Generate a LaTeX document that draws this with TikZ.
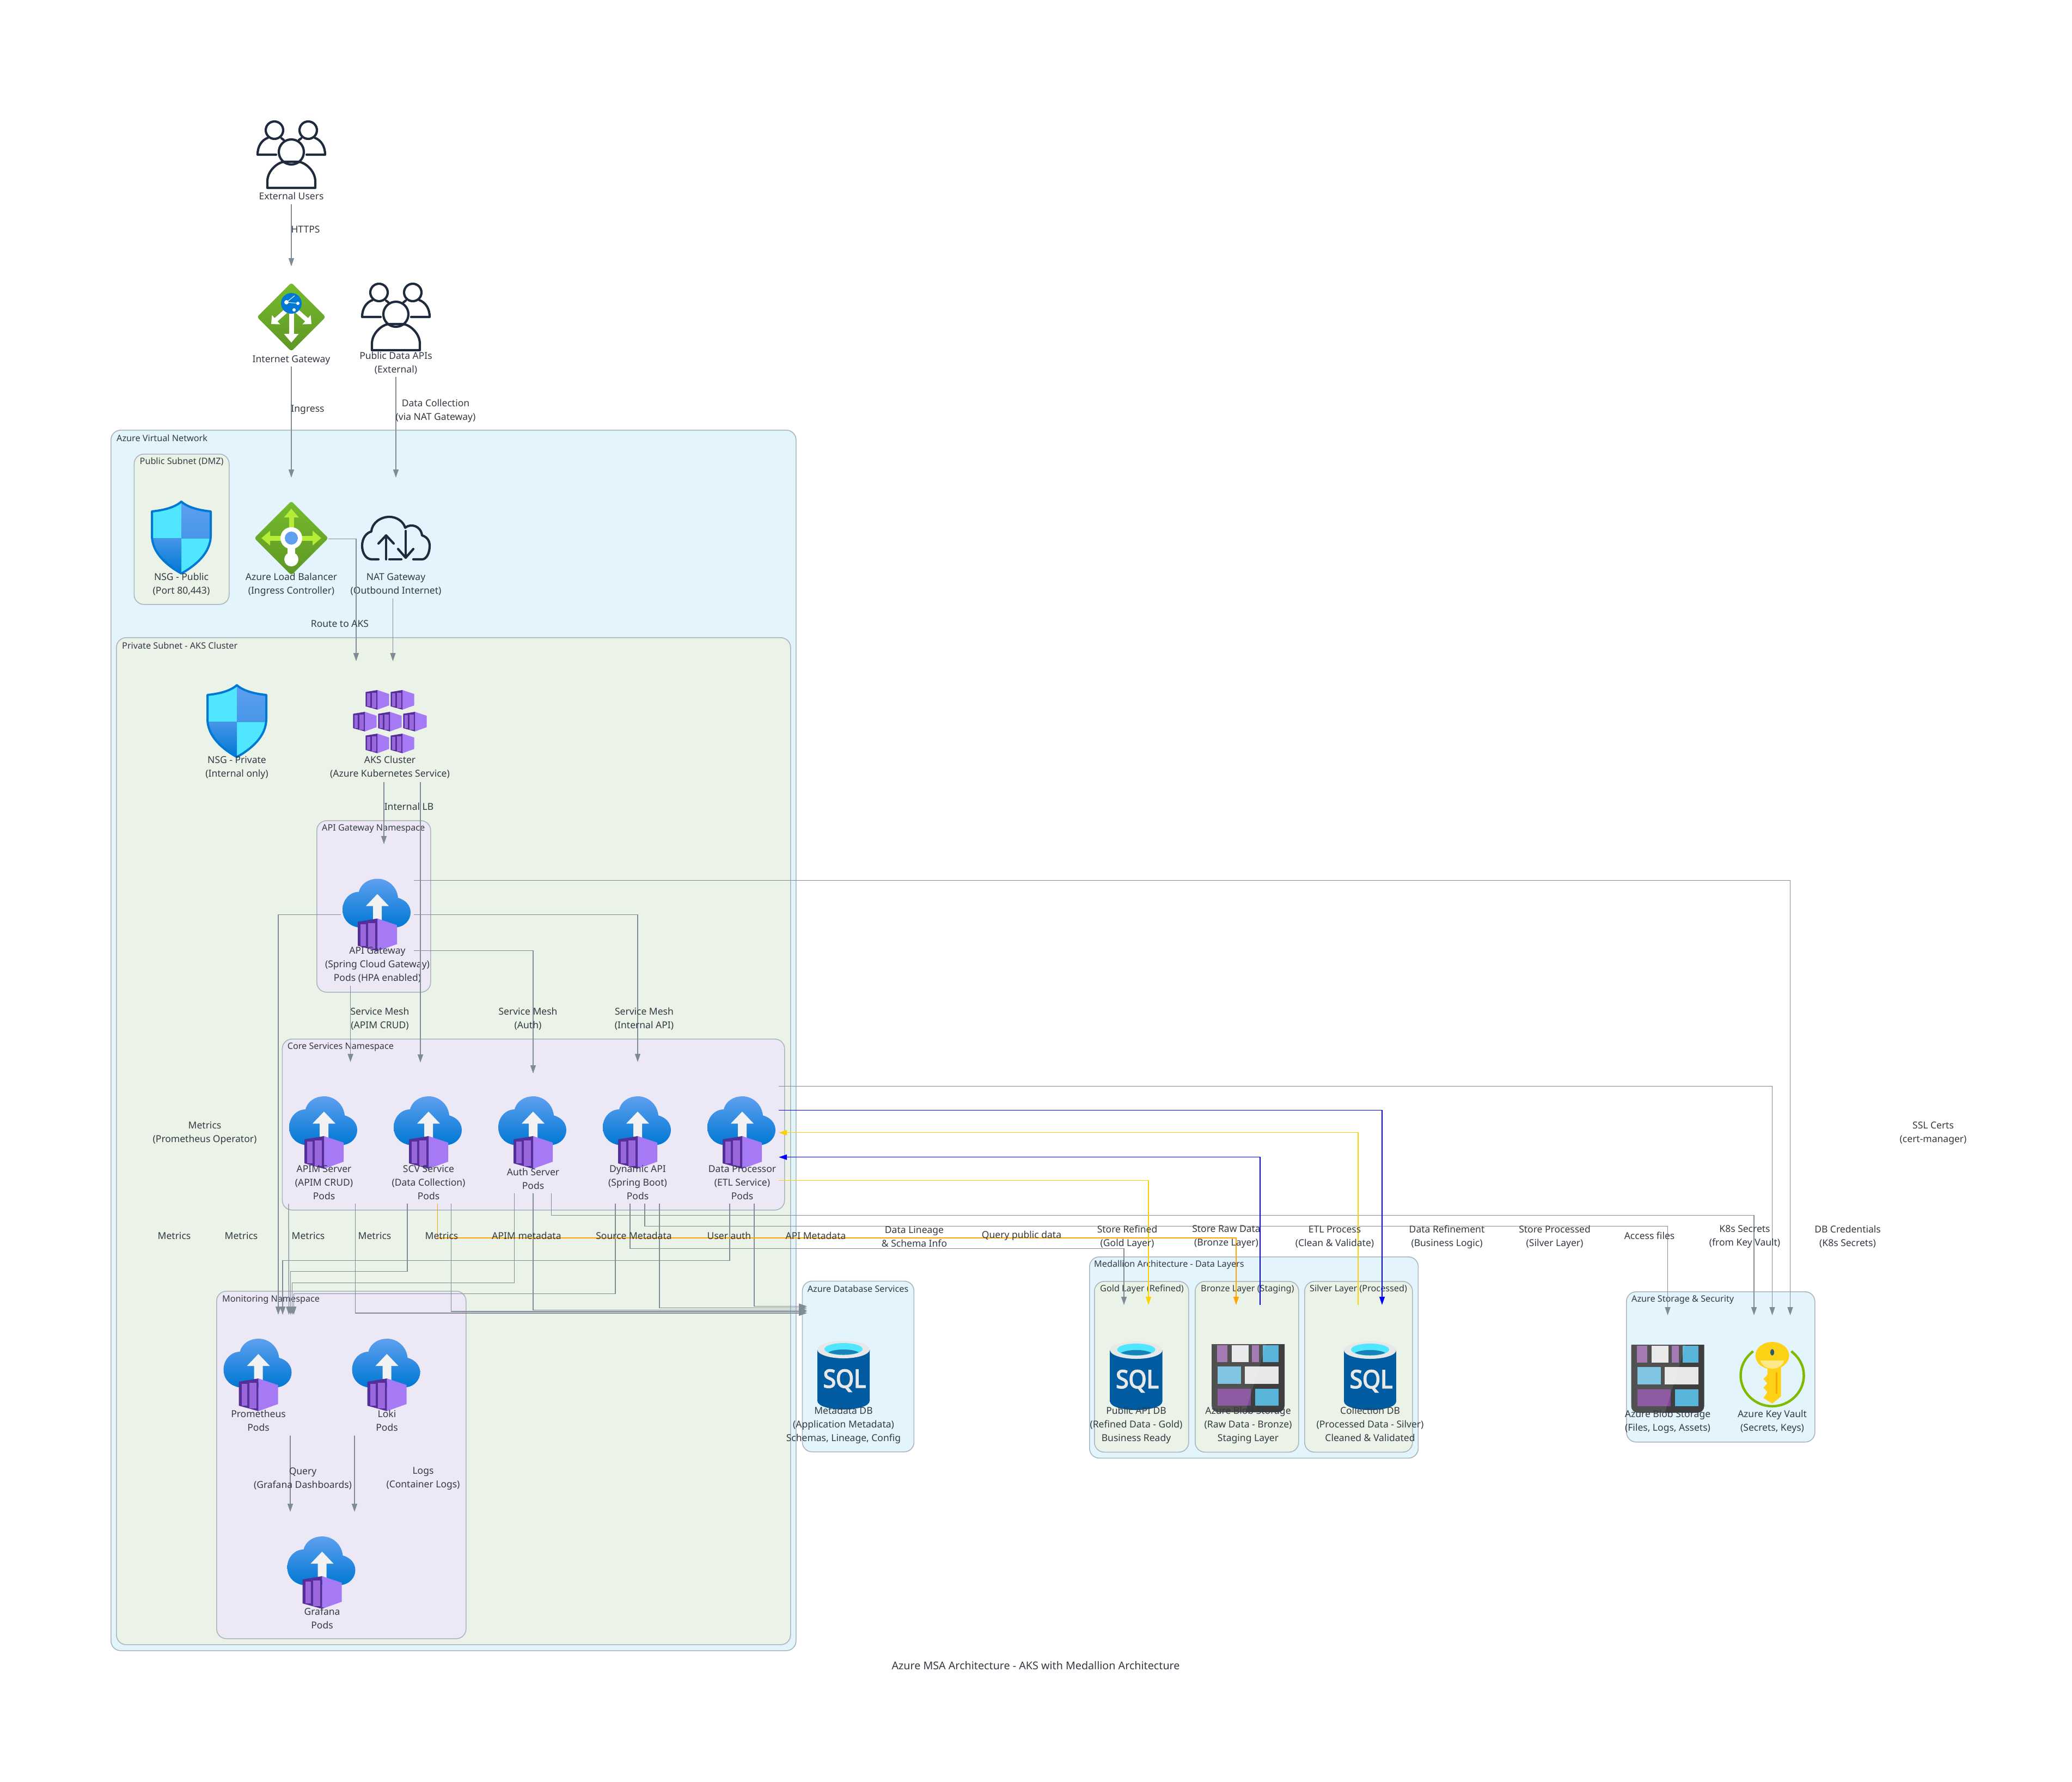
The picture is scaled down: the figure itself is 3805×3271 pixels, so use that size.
\documentclass[tikz,border=0pt]{standalone}
\usepackage{fontspec}
\setmainfont{Noto Sans}
\newfontfamily\sqlfont[FakeBold=3.5,FakeStretch=.92]{Noto Sans}
\usetikzlibrary{arrows.meta,positioning,shapes.geometric}
\definecolor{inkc}{HTML}{333A42}
\definecolor{linec}{HTML}{7F8C97}
\definecolor{edgec}{HTML}{AAB6C0}
\definecolor{netc}{HTML}{E3F4FC}
\definecolor{subc}{HTML}{EBF2E7}
\definecolor{nsc}{HTML}{ECE8F6}
\definecolor{usrc}{HTML}{1F2A3C}
\definecolor{cblue}{HTML}{0078D4}
\definecolor{sqle}{HTML}{005BA1}
\definecolor{lblue}{HTML}{5EA0EF}
\definecolor{cyanc}{HTML}{50E6FF}
\definecolor{podl}{HTML}{A67AF4}
\definecolor{podd}{HTML}{552F99}
\definecolor{pods}{HTML}{9A67DD}
\definecolor{grnt}{HTML}{76BC2D}
\definecolor{grnb}{HTML}{5E9624}
\definecolor{lime}{HTML}{B4EC36}
\definecolor{ringc}{HTML}{7FBA00}
\definecolor{blobf}{HTML}{3E3E3E}
\definecolor{blobb}{HTML}{59B4D9}
\definecolor{blobp}{HTML}{804998}
\definecolor{blobw}{HTML}{E8E8E8}
\definecolor{keyc}{HTML}{FCD116}
\definecolor{goldc}{HTML}{FFD000}
\definecolor{orngc}{HTML}{FFA500}
\newcommand{\shieldpath}{(0,0) .. controls (-12,11) and (-34,16) .. (-54,18) -- (-54,62) .. controls (-54,95) and (-25,118) .. (0,132) .. controls (25,118) and (54,95) .. (54,62) -- (54,18) .. controls (34,16) and (12,11) .. (0,0) -- cycle}
\tikzset{
  pics/cbox/.style={code={
    \fill[podl] (0,-30) -- (36,-18) -- (36,17) -- (0,30) -- cycle;
    \fill[podd] (0,-30) -- (-36,-24) -- (-36,20) -- (0,30) -- cycle;
    \fill[pods] (-31,-20) rectangle (-21,20);
    \fill[pods] (-17,-22) rectangle (-4,25);
  }},
  pics/podicon/.style={code={
    \shade[top color=lblue, bottom color=cblue] (-37,89) .. controls (-55,85) and (-64,72) .. (-64,57) .. controls (-64,38) and (-50,24) .. (-34,24) .. controls (-30,8) and (-15,0) .. (0,0) .. controls (20,0) and (36,15) .. (38,35) .. controls (52,39) and (61,49) .. (61,62) .. controls (61,76) and (50,87) .. (37,89) -- cycle;
    \fill[white!95!black] (0,28) -- (21,50) -- (8,50) -- (8,80) -- (-8,80) -- (-8,50) -- (-21,50) -- cycle;
    \pic at (0,103) {cbox};
  }},
  pics/usersicon/.style={code={
    \begin{scope}[draw=usrc, line width=4.2pt, line join=round, line cap=round]
    \draw (-31,18) circle[radius=16];
    \draw (31,18) circle[radius=16];
    \draw (-28,63) -- (-62,63) .. controls (-62,47) and (-54,36) .. (-43,32);
    \draw (28,63) -- (62,63) .. controls (62,47) and (54,36) .. (43,32);
    \draw (-18,33) -- (-14,36);
    \draw (18,33) -- (14,36);
    \draw[fill=white] (0,58) circle[radius=23];
    \draw (-44,124) -- (-44,112) .. controls (-44,92) and (-24,76) .. (-12,76) -- (12,76) .. controls (24,76) and (44,92) .. (44,112) -- (44,124) -- cycle;
    \end{scope}
  }},
  pics/igwicon/.style={code={
    \shade[top color=grnt, bottom color=grnb, rounded corners=4pt] (0,0) -- (63,63) -- (0,126) -- (-63,63) -- cycle;
    \draw[white, line width=9pt, -{Triangle[length=16pt,width=26pt]}] (0,50) -- (0,110);
    \draw[white, line width=8pt, -{Triangle[length=12pt,width=22pt]}] (-10,52) -- (-37,76);
    \draw[white, line width=8pt, -{Triangle[length=12pt,width=22pt]}] (10,52) -- (37,76);
    \fill[cblue] (0,38) circle[radius=19];
    \fill[white] (-9,36) circle[radius=4] (5,50) circle[radius=3] (12,38) circle[radius=3];
    \draw[white, line width=1pt] (-9,36) -- (6,24) (-9,36) -- (12,38);
  }},
  pics/lbicon/.style={code={
    \shade[top color=grnt, bottom color=grnb, rounded corners=4pt] (0,0) -- (68,68) -- (0,136) -- (-68,68) -- cycle;
    \draw[lime, line width=9pt, -{Triangle[length=16pt,width=26pt]}] (0,68) -- (0,14);
    \draw[lime, line width=9pt, -{Triangle[length=16pt,width=26pt]}] (0,68) -- (-55,68);
    \draw[lime, line width=9pt, -{Triangle[length=16pt,width=26pt]}] (0,68) -- (55,68);
    \fill[white] (-7,80) rectangle (7,105);
    \fill[white] (0,107) circle[radius=13];
    \fill[white] (0,68) circle[radius=20];
    \fill[lblue] (0,68) circle[radius=12];
  }},
  pics/naticon/.style={code={
    \begin{scope}[draw=usrc, line width=4.2pt, line join=round, line cap=round]
    \draw (-32,79) -- (-44,79) .. controls (-56,79) and (-62,66) .. (-62,54) .. controls (-62,40) and (-54,30) .. (-45,28) .. controls (-44,12) and (-28,1) .. (-12,1) .. controls (2,1) and (14,10) .. (17,21) .. controls (28,12) and (46,18) .. (48,35) .. controls (58,38) and (62,46) .. (62,54) .. controls (62,68) and (56,79) .. (48,79) -- (32,79);
    \draw (-18,79) -- (-18,36);
    \draw (-32,50) -- (-18,35) -- (-4,50);
    \draw (18,27) -- (18,76);
    \draw (4,60) -- (18,76) -- (32,60);
    \draw (-12,79) -- (10,79);
    \end{scope}
  }},
  pics/shieldicon/.style={code={
    \begin{scope}
    \clip \shieldpath;
    \fill[cyanc] (-54,0) rectangle (0,67);
    \fill[cyanc] (0,67) rectangle (54,132);
    \shade[top color=lblue, bottom color=lblue!75!cblue] (0,0) rectangle (54,67);
    \shade[top color=lblue!75!cblue, bottom color=cblue] (-54,67) rectangle (0,132);
    \end{scope}
    \draw[cblue, line width=4pt, line join=round] \shieldpath;
  }},
  pics/aksicon/.style={code={
    \pic[scale=.6] at (-23,18) {cbox};
    \pic[scale=.6] at (23,18) {cbox};
    \pic[scale=.6] at (-46,58) {cbox};
    \pic[scale=.6] at (0,58) {cbox};
    \pic[scale=.6] at (46,58) {cbox};
    \pic[scale=.6] at (-23,98) {cbox};
    \pic[scale=.6] at (23,98) {cbox};
  }},
  pics/sqlicon/.style={code={
    \shade[left color=sqle, middle color=cblue, right color=sqle] (-48,16) -- (-48,110) .. controls (-48,120) and (-25,126) .. (0,126) .. controls (25,126) and (48,120) .. (48,110) -- (48,16) -- cycle;
    \fill[blobw] (0,16) ellipse[x radius=48, y radius=16];
    \fill[cyanc] (0,15) ellipse[x radius=35, y radius=11];
    \fill[cblue!60!cyanc!80!black] (-28,21) .. controls (-15,14) and (15,14) .. (28,21) .. controls (15,27) and (-15,27) .. (-28,21);
    \node[font=\fontsize{46}{46}\sqlfont, text=blobw, inner sep=0pt] (-sqltxt) at (2,73) {SQL};
  }},
  pics/blobicon/.style={code={
    \begin{scope}[shift={(-67,0)}]
    \fill[blobf] (0,0) -- (134,0) {[rounded corners=12pt] -- (134,125) -- (0,125)} -- cycle;
    \fill[blobp!80!white] (10,2) rectangle (29,33);
    \fill[blobw] (37,2) rectangle (68,33);
    \fill[blobp!80!white] (74,2) rectangle (87,33);
    \fill[blobb] (94,2) rectangle (123,33);
    \fill[blobb!85!white] (11,41) rectangle (54,73);
    \fill[blobw] (61,41) rectangle (123,73);
    \fill[blobp] (11,82) rectangle (72,113);
    \fill[blobb] (80,82) rectangle (123,113);
    \fill[white, opacity=.1] (0,0) -- (100,0) -- (62,125) -- (0,125) -- cycle;
    \end{scope}
  }},
  pics/keyicon/.style={code={
    \draw[ringc, line width=4.5pt] (-35,17) .. controls (-51,30) and (-58,45) .. (-58,62) .. controls (-58,92) and (-32,118) .. (0,118) .. controls (32,118) and (58,92) .. (58,62) .. controls (58,45) and (51,30) .. (35,17);
    \fill[keyc] (0,25) ellipse[x radius=31, y radius=25];
    \fill[keyc] (16,42) -- (16,100) -- (0,113) -- (-16,103) -- (-9,92) -- (-16,84) -- (-9,76) -- (-16,68) -- (-9,60) -- (-9,42) -- cycle;
    \fill[orngc] (6,56) rectangle (9,95);
    \fill[keyc!50!white] (-22,34) -- (22,34) .. controls (18,46) and (8,49) .. (0,49) .. controls (-8,49) and (-18,46) .. (-22,34);
    \fill[blobb!50!black] (0,19) ellipse[x radius=3.5, y radius=6];
  }}
}
\begin{document}
\begin{tikzpicture}[
  x=1pt, y=-1pt,
  font=\fontsize{17.5}{25}\selectfont,
  text=inkc,
  grp/.style={draw=edgec, line width=1.6pt, rounded corners=18pt, anchor=north west, inner sep=0pt},
  grplbl/.style={font=\fontsize{16.2}{20}\selectfont, anchor=west, inner sep=0pt},
  icn/.style 2 args={minimum width=#1pt, minimum height=#2pt, anchor=north, inner sep=0pt},
  txt/.style={align=center, inner sep=0pt, anchor=north, yshift=7pt, execute at begin node=\rule{0pt}{17.5pt}},
  lbl/.style={align=center, inner sep=0pt},
  arr/.style={draw=linec, line width=1.25pt, -{Triangle[length=15pt,width=10pt,fill=linec]}},
  arry/.style={draw=goldc, line width=1.2pt, -{Triangle[length=15pt,width=10pt,fill=goldc]}},
  arro/.style={draw=orngc, line width=1.2pt, -{Triangle[length=15pt,width=10pt,fill=orngc]}},
  arrb/.style={draw=blue, line width=1.1pt, -{Triangle[length=15pt,width=10pt,fill=blue]}}]
\path[use as bounding box, fill=white] (0,0) rectangle (3805,3271);
% --- groups ---
\node[grp, fill=netc, minimum width=1258pt, minimum height=2241pt] (vnet) at (203,789) {};
\node[grplbl] (vnetL) at ([shift={(11,15)}]vnet.north west) {Azure Virtual Network};
\node[grp, fill=subc, minimum width=174.5pt, minimum height=276pt] (pubnet) at (245.5,833) {};
\node[grplbl] (pubnetL) at ([shift={(11,15)}]pubnet.north west) {Public Subnet (DMZ)};
\node[grp, fill=subc, minimum width=1238pt, minimum height=1849pt] (privnet) at (213,1170) {};
\node[grplbl] (privnetL) at ([shift={(11,15)}]privnet.north west) {Private Subnet - AKS Cluster};
\node[grp, fill=nsc, minimum width=209pt, minimum height=315pt] (gwns) at (581,1506) {};
\node[grplbl] (gwnsL) at ([shift={(10,16)}]gwns.north west) {API Gateway Namespace};
\node[grp, fill=nsc, minimum width=922.4pt, minimum height=314pt] (corens) at (517.6,1907) {};
\node[grplbl] (corensL) at ([shift={(10,15)}]corens.north west) {Core Services Namespace};
\node[grp, fill=nsc, minimum width=458pt, minimum height=638pt] (monns) at (397,2370) {};
\node[grplbl] (monnsL) at ([shift={(11,16)}]monns.north west) {Monitoring Namespace};
\node[grp, fill=netc, minimum width=205pt, minimum height=313.5pt] (dbns) at (1472.6,2351.5) {};
\node[grplbl] (dbnsL) at ([shift={(10,15)}]dbns.north west) {Azure Database Services};
\node[grp, fill=netc, minimum width=603.6pt, minimum height=369.5pt] (medal) at (2000,2307) {};
\node[grplbl] (medalL) at ([shift={(9,15)}]medal.north west) {Medallion Architecture - Data Layers};
\node[grp, fill=subc, minimum width=173pt, minimum height=313.5pt] (goldg) at (2009,2352) {};
\node[grplbl] (goldgL) at ([shift={(11,15)}]goldg.north west) {Gold Layer (Refined)};
\node[grp, fill=subc, minimum width=190pt, minimum height=313.5pt] (bronzeg) at (2194,2352) {};
\node[grplbl] (bronzegL) at ([shift={(11,15)}]bronzeg.north west) {Bronze Layer (Staging)};
\node[grp, fill=subc, minimum width=198pt, minimum height=313.5pt] (silverg) at (2395,2352) {};
\node[grplbl] (silvergL) at ([shift={(10,15)}]silverg.north west) {Silver Layer (Processed)};
\node[grp, fill=netc, minimum width=346pt, minimum height=276pt] (storeg) at (2986,2371) {};
\node[grplbl] (storegL) at ([shift={(10,15)}]storeg.north west) {Azure Storage \& Security};
% --- services ---
\node[icn={125}{134}] (users) at (535,221) {};
\pic at (users.north) {usersicon};
\node[txt] (usersL) at (users.south) {External Users};
\node[icn={125}{135}] (igw) at (535,519) {};
\pic at (igw.north) {igwicon};
\node[txt] (igwL) at (igw.south) {Internet Gateway};
\node[icn={125}{134}] (pubapi) at (727,519) {};
\pic at (pubapi.north) {usersicon};
\node[txt] (pubapiL) at (pubapi.south) {Public Data APIs\\(External)};
\node[icn={109}{138}] (nsgpub) at (333,921) {};
\pic at (nsgpub.north) {shieldicon};
\node[txt] (nsgpubL) at (nsgpub.south) {NSG - Public\\(Port 80,443)};
\node[icn={136}{139}] (lb) at (535,920) {};
\pic at (lb.north) {lbicon};
\node[txt] (lbL) at (lb.south) {Azure Load Balancer\\(Ingress Controller)};
\node[icn={125}{111}] (nat) at (727,948) {};
\pic at (nat.north) {naticon};
\node[txt] (natL) at (nat.south) {NAT Gateway\\(Outbound Internet)};
\node[icn={109}{137}] (nsgpriv) at (435,1258) {};
\pic at (nsgpriv.north) {shieldicon};
\node[txt] (nsgprivL) at (nsgpriv.south) {NSG - Private\\(Internal only)};
\node[icn={134}{128}] (aks) at (716,1267) {};
\pic at (aks.north) {aksicon};
\node[txt] (aksL) at (aks.south) {AKS Cluster\\(Azure Kubernetes Service)};
\node[icn={134}{132}] (gw) at (693,1613.5) {};
\pic at (gw.north) {podicon};
\node[txt] (gwL) at (gw.south) {API Gateway\\(Spring Cloud Gateway)\\Pods (HPA enabled)};
\node[icn={134}{133}] (apim) at (595,2013) {};
\pic at (apim.north) {podicon};
\node[txt] (apimL) at (apim.south) {APIM Server\\(APIM CRUD)\\Pods};
\node[icn={134}{133}] (scv) at (787,2013) {};
\pic at (scv.north) {podicon};
\node[txt] (scvL) at (scv.south) {SCV Service\\(Data Collection)\\Pods};
\node[icn={134}{139}] (auth) at (979,2013) {};
\pic at (auth.north) {podicon};
\node[txt] (authL) at (auth.south) {Auth Server\\Pods};
\node[icn={134}{133}] (dyn) at (1171,2013) {};
\pic at (dyn.north) {podicon};
\node[txt] (dynL) at (dyn.south) {Dynamic API\\(Spring Boot)\\Pods};
\node[icn={134}{133}] (proc) at (1363,2013) {};
\pic at (proc.north) {podicon};
\node[txt] (procL) at (proc.south) {Data Processor\\(ETL Service)\\Pods};
\node[icn={134}{138}] (prom) at (474.5,2458) {};
\pic at (prom.north) {podicon};
\node[txt] (promL) at (prom.south) {Prometheus\\Pods};
\node[icn={134}{138}] (loki) at (710.5,2458) {};
\pic at (loki.north) {podicon};
\node[txt] (lokiL) at (loki.south) {Loki\\Pods};
\node[icn={134}{137}] (graf) at (591.5,2821) {};
\pic at (graf.north) {podicon};
\node[txt] (grafL) at (graf.south) {Grafana\\Pods};
\node[icn={96}{128}] (metadb) at (1549,2462) {};
\pic (metaSql) at (metadb.north) {sqlicon};
\node[txt] (metadbL) at (metadb.south) {Metadata DB\\(Application Metadata)\\Schemas, Lineage, Config};
\node[icn={96}{127}] (gold) at (2086.5,2463) {};
\pic (goldSql) at (gold.north) {sqlicon};
\node[txt] (goldL) at (gold.south) {Public API DB\\(Refined Data - Gold)\\Business Ready};
\node[icn={134}{122}] (bronze) at (2292,2468) {};
\pic at (bronze.north) {blobicon};
\node[txt] (bronzeL) at (bronze.south) {Azure Blob Storage\\(Raw Data - Bronze)\\Staging Layer};
\node[icn={96}{127}] (silver) at (2516,2463) {};
\pic (silverSql) at (silver.north) {sqlicon};
\node[txt] (silverL) at (silver.south) {Collection DB\\(Processed Data - Silver)\\Cleaned \& Validated};
\node[icn={134}{127}] (blob) at (3062.5,2469) {};
\pic at (blob.north) {blobicon};
\node[txt] (blobL) at (blob.south) {Azure Blob Storage\\(Files, Logs, Assets)};
\node[icn={116}{132}] (kv) at (3254.5,2464) {};
\pic at (kv.north) {keyicon};
\node[txt] (kvL) at (kv.south) {Azure Key Vault\\(Secrets, Keys)};
% --- connectors, top ---
\draw[arr] ([shift={(0,20)}]users.south) -- ([shift={(0,-30)}]igw.north);
\draw[arr] ([shift={(0,19)}]igw.south) -- ([shift={(0,-43)}]lb.north);
\draw[arr] ([shift={(0,39)}]pubapi.south) -- ([shift={(0,-71)}]nat.north);
\draw[arr] (lb.east) -| ([shift={(-62,-53)}]aks.north);
\draw[arr] ([shift={(-5.5,40)}]nat.south) -- ([shift={(5.5,-53)}]aks.north);
\draw[arr] ([shift={(-11,41)}]aks.south) -- ([shift={(12,-63.5)}]gw.north);
\draw[arr] ([shift={(56,41)}]aks.south) -- ([shift={(-15,-62)}]scv.north);
% --- connectors, gateway ---
\draw[arr] ([shift={(-49.4,64.5)}]gw.south) -- ([shift={(48.6,-63)}]apim.north);
\draw[arr] ([shift={(0,66)}]gw.east) -| ([shift={(0,-42)}]auth.north);
\draw[arr] (gw.east) -| ([shift={(0,-63)}]dyn.north);
\draw[arr] (gw.west) -| ([shift={(36.5,-44)}]prom.north);
\draw[arr] ([shift={(0,-63.5)}]gw.east) -| ([shift={(33,-49)}]kv.north);
% --- connectors, to monitoring ---
\draw[arr] ([shift={(-65,64)}]apim.south) -- ([shift={(56,-44)}]prom.north);
\draw[arr] ([shift={(-39,64)}]scv.south) -- ++(0,123.7) -| ([shift={(59.2,-44)}]prom.north);
\draw[arr] ([shift={(-34.4,39)}]auth.south) -- ++(0,164) -| ([shift={(62.2,-44)}]prom.north);
\draw[arr] ([shift={(-41,64)}]dyn.south) -- ++(0,165) -| ([shift={(64.8,-44)}]prom.north);
\draw[arr] ([shift={(-23,64)}]proc.south) -- ++(0,104) -| ([shift={(44.5,-44)}]prom.north);
% --- connectors, to metadata ---
\draw[arr] ([shift={(57.7,64)}]apim.south) |- ([shift={(-67,-51)}]metadb.north);
\draw[arr] ([shift={(41.6,64)}]scv.south) |- ([shift={(-67,-54)}]metadb.north);
\draw[arr] ([shift={(0,39)}]auth.south) |- ([shift={(-67,-56.3)}]metadb.north);
\draw[arr] ([shift={(40,64)}]dyn.south) |- ([shift={(-67,-60.3)}]metadb.north);
\draw[arr] ([shift={(22,64)}]proc.south) |- ([shift={(-67,-63.5)}]metadb.north);
% --- connectors, to data and security ---
\draw[arro] ([shift={(16.6,64)}]scv.south) -- ++(0,62.5) -| ([shift={(-22,-72)}]bronze.north);
\draw[arr] ([shift={(33.6,39)}]auth.south) -- ++(0,40) -| ([shift={(-33.5,-49)}]kv.north);
\draw[arr] ([shift={(-14,64)}]dyn.south) -- ++(0,82) -| ([shift={(-22.5,-67)}]gold.north);
\draw[arr] ([shift={(13,64)}]dyn.south) -- ++(0,41) -| ([shift={(0,-54)}]blob.north);
\draw[arr] ([shift={(0,-85.5)}]proc.east) -| ([shift={(0,-49)}]kv.north);
\draw[arrb] ([shift={(0,-41.5)}]proc.east) -| ([shift={(22,-67)}]silver.north);
\draw[arry] ([shift={(-22,-67)}]silver.north) |- (proc.east);
\draw[arrb] ([shift={(22,-72)}]bronze.north) |- ([shift={(0,45)}]proc.east);
\draw[arry] ([shift={(0,87.5)}]proc.east) -| ([shift={(22.5,-67)}]gold.north);
\draw[arr] ([shift={(58.5,40)}]prom.south) -- ([shift={(-58.5,-45)}]graf.north);
\draw[arr] ([shift={(-59.5,40)}]loki.south) -- ([shift={(59.5,-45)}]graf.north);
% --- edge labels ---
\node[lbl] (eHttps) at (561,421) {HTTPS};
\node[lbl] (eIngress) at (565,752) {Ingress};
\node[lbl] (eData) at (800,754) {Data Collection\\(via NAT Gateway)};
\node[lbl] (eRoute) at (624,1145) {Route to AKS};
\node[lbl] (eIntLb) at (751,1481) {Internal LB};
\node[lbl] (eSm1) at (697.5,1871) {Service Mesh\\(APIM CRUD)};
\node[lbl] (eSm2) at (969.5,1871) {Service Mesh\\(Auth)};
\node[lbl] (eSm3) at (1183,1871) {Service Mesh\\(Internal API)};
\node[lbl] (eProm) at (376,2081) {Metrics\\(Prometheus Operator)};
\node[lbl] (eSsl) at (3550,2081) {SSL Certs\\(cert-manager)};
\node[lbl] (eM1) at (320,2269) {Metrics};
\node[lbl] (eM2) at (443,2269) {Metrics};
\node[lbl] (eM3) at (566,2269) {Metrics};
\node[lbl] (eM4) at (688,2269) {Metrics};
\node[lbl] (eM5) at (811,2269) {Metrics};
\node[lbl] (eApim) at (967,2269) {APIM metadata};
\node[lbl] (eSrc) at (1164,2269) {Source Metadata};
\node[lbl] (eUser) at (1339,2269) {User auth};
\node[lbl] (eApi) at (1498,2269) {API Metadata};
\node[lbl] (eLin) at (1679,2271) {Data Lineage\\\& Schema Info};
\node[lbl] (eQry) at (1876,2269) {Query public data};
\node[lbl] (eGold) at (2070,2271) {Store Refined\\(Gold Layer)};
\node[lbl] (eRaw) at (2252,2271) {Store Raw Data\\(Bronze Layer)};
\node[lbl] (eEtl) at (2451,2271) {ETL Process\\(Clean \& Validate)};
\node[lbl] (eRef) at (2657,2271) {Data Refinement\\(Business Logic)};
\node[lbl] (eProc) at (2855,2271) {Store Processed\\(Silver Layer)};
\node[lbl] (eFiles) at (3029,2269) {Access files};
\node[lbl] (eK8s) at (3204,2271) {K8s Secrets\\(from Key Vault)};
\node[lbl] (eDbc) at (3393,2271) {DB Credentials\\(K8s Secrets)};
\node[lbl] (eQuery) at (556,2715) {Query\\(Grafana Dashboards)};
\node[lbl] (eLogs) at (777,2715) {Logs\\(Container Logs)};
\node[lbl, font=\fontsize{19.7}{24}\selectfont] (title) at (1902,3058) {Azure MSA Architecture - AKS with Medallion Architecture};
\end{tikzpicture}
\end{document}
